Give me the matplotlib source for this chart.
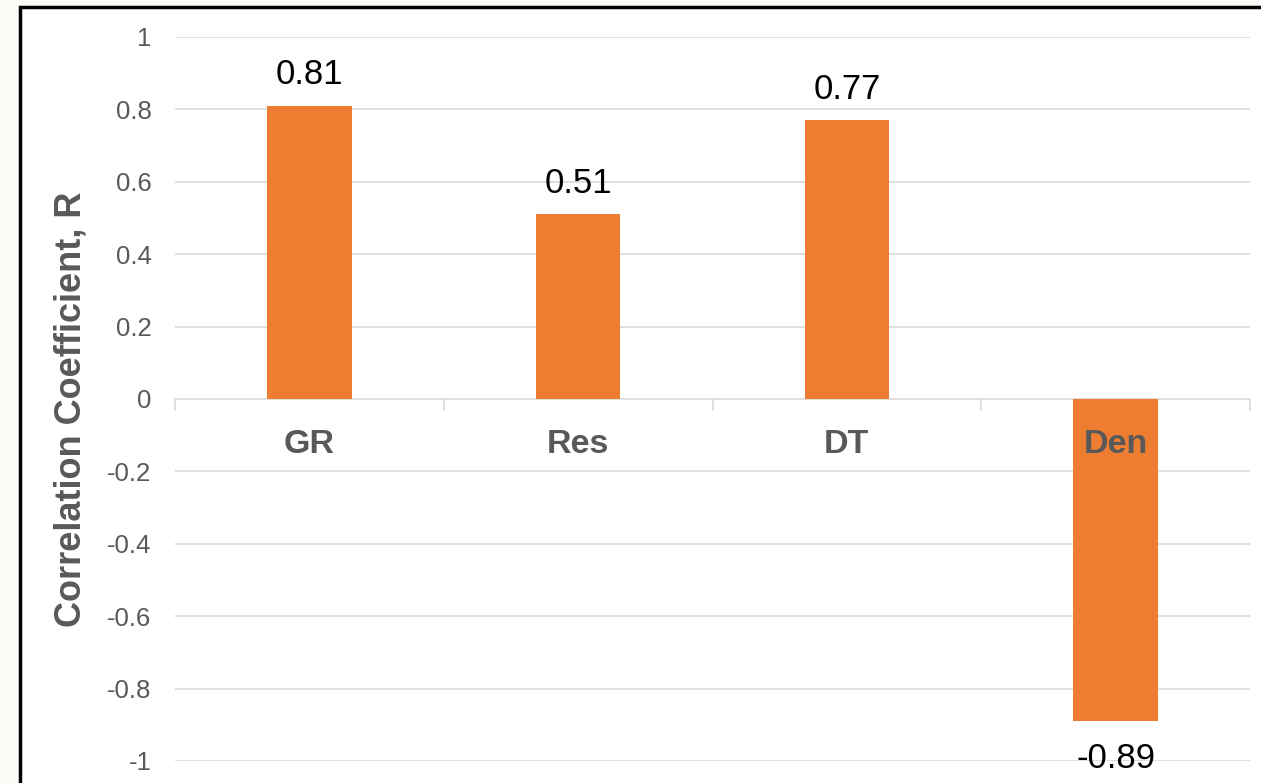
import matplotlib.pyplot as plt
from matplotlib.patches import Rectangle
import numpy as np

# Correlation of each log with the target
logs = ['GR', 'Res', 'DT', 'Den']
r_values = [0.81, 0.51, 0.77, -0.89]
y_ticks = [1, 0.8, 0.6, 0.4, 0.2, 0, -0.2, -0.4, -0.6, -0.8, -1]

plt.rcParams['font.family'] = ['Liberation Sans', 'DejaVu Sans']

fig = plt.figure(figsize=(12.61, 7.83), dpi=100, facecolor='#fdfbf7')
# white chart area with a black frame on the left and top
fig.patches.append(Rectangle((20 / 1261, -0.05), 1.1, (783 - 7) / 783 + 0.05,
                             transform=fig.transFigure, facecolor='white',
                             edgecolor='black', linewidth=2.5, zorder=-10))

ax = fig.add_axes([175 / 1261, 1 - 761 / 783, (1250 - 175) / 1261, (761 - 37) / 783])
ax.set_facecolor('none')

x = np.arange(len(logs))
ax.bar(x, r_values, width=0.315, color='#ed7d31', zorder=2)

ax.set_xlim(-0.5, len(logs) - 0.5)
ax.set_ylim(-1, 1)
ax.set_yticks(y_ticks)
ax.set_yticklabels([f'{t:g}' for t in y_ticks], color='#595959', fontsize=18.5)
ax.tick_params(axis='y', length=0, pad=17)
ax.set_xticks([])
for s in ax.spines.values():
    s.set_visible(False)
ax.grid(axis='y', color='#d9d9d9', linewidth=1.2, zorder=1)

# category ticks on the zero line
for b in np.arange(-0.5, len(logs), 1.0):
    ax.plot([b, b], [0, -0.03], color='#d9d9d9', linewidth=1.2, zorder=1, clip_on=False)

for xi, name, v in zip(x, logs, r_values):
    ax.text(xi, -0.149, name, ha='center', va='baseline', fontsize=24.5,
            fontweight='bold', color='#595959', zorder=3)
    if v >= 0:
        ax.annotate(f'{v:.2f}', (xi, v), xytext=(0, 15.5), textcoords='offset points',
                    ha='center', va='baseline', fontsize=25, zorder=3)
    else:
        ax.annotate(f'{v:.2f}', (xi, v), xytext=(0, -34), textcoords='offset points',
                    ha='center', va='baseline', fontsize=25, zorder=3)

ax.set_ylabel('Correlation Coefficient, R', fontsize=26, fontweight='bold',
              color='#595959')
ax.yaxis.set_label_coords((89 - 175) / (1250 - 175), (761 - 409) / (761 - 37))

fig.savefig('out.png', dpi=100, facecolor=fig.get_facecolor())
